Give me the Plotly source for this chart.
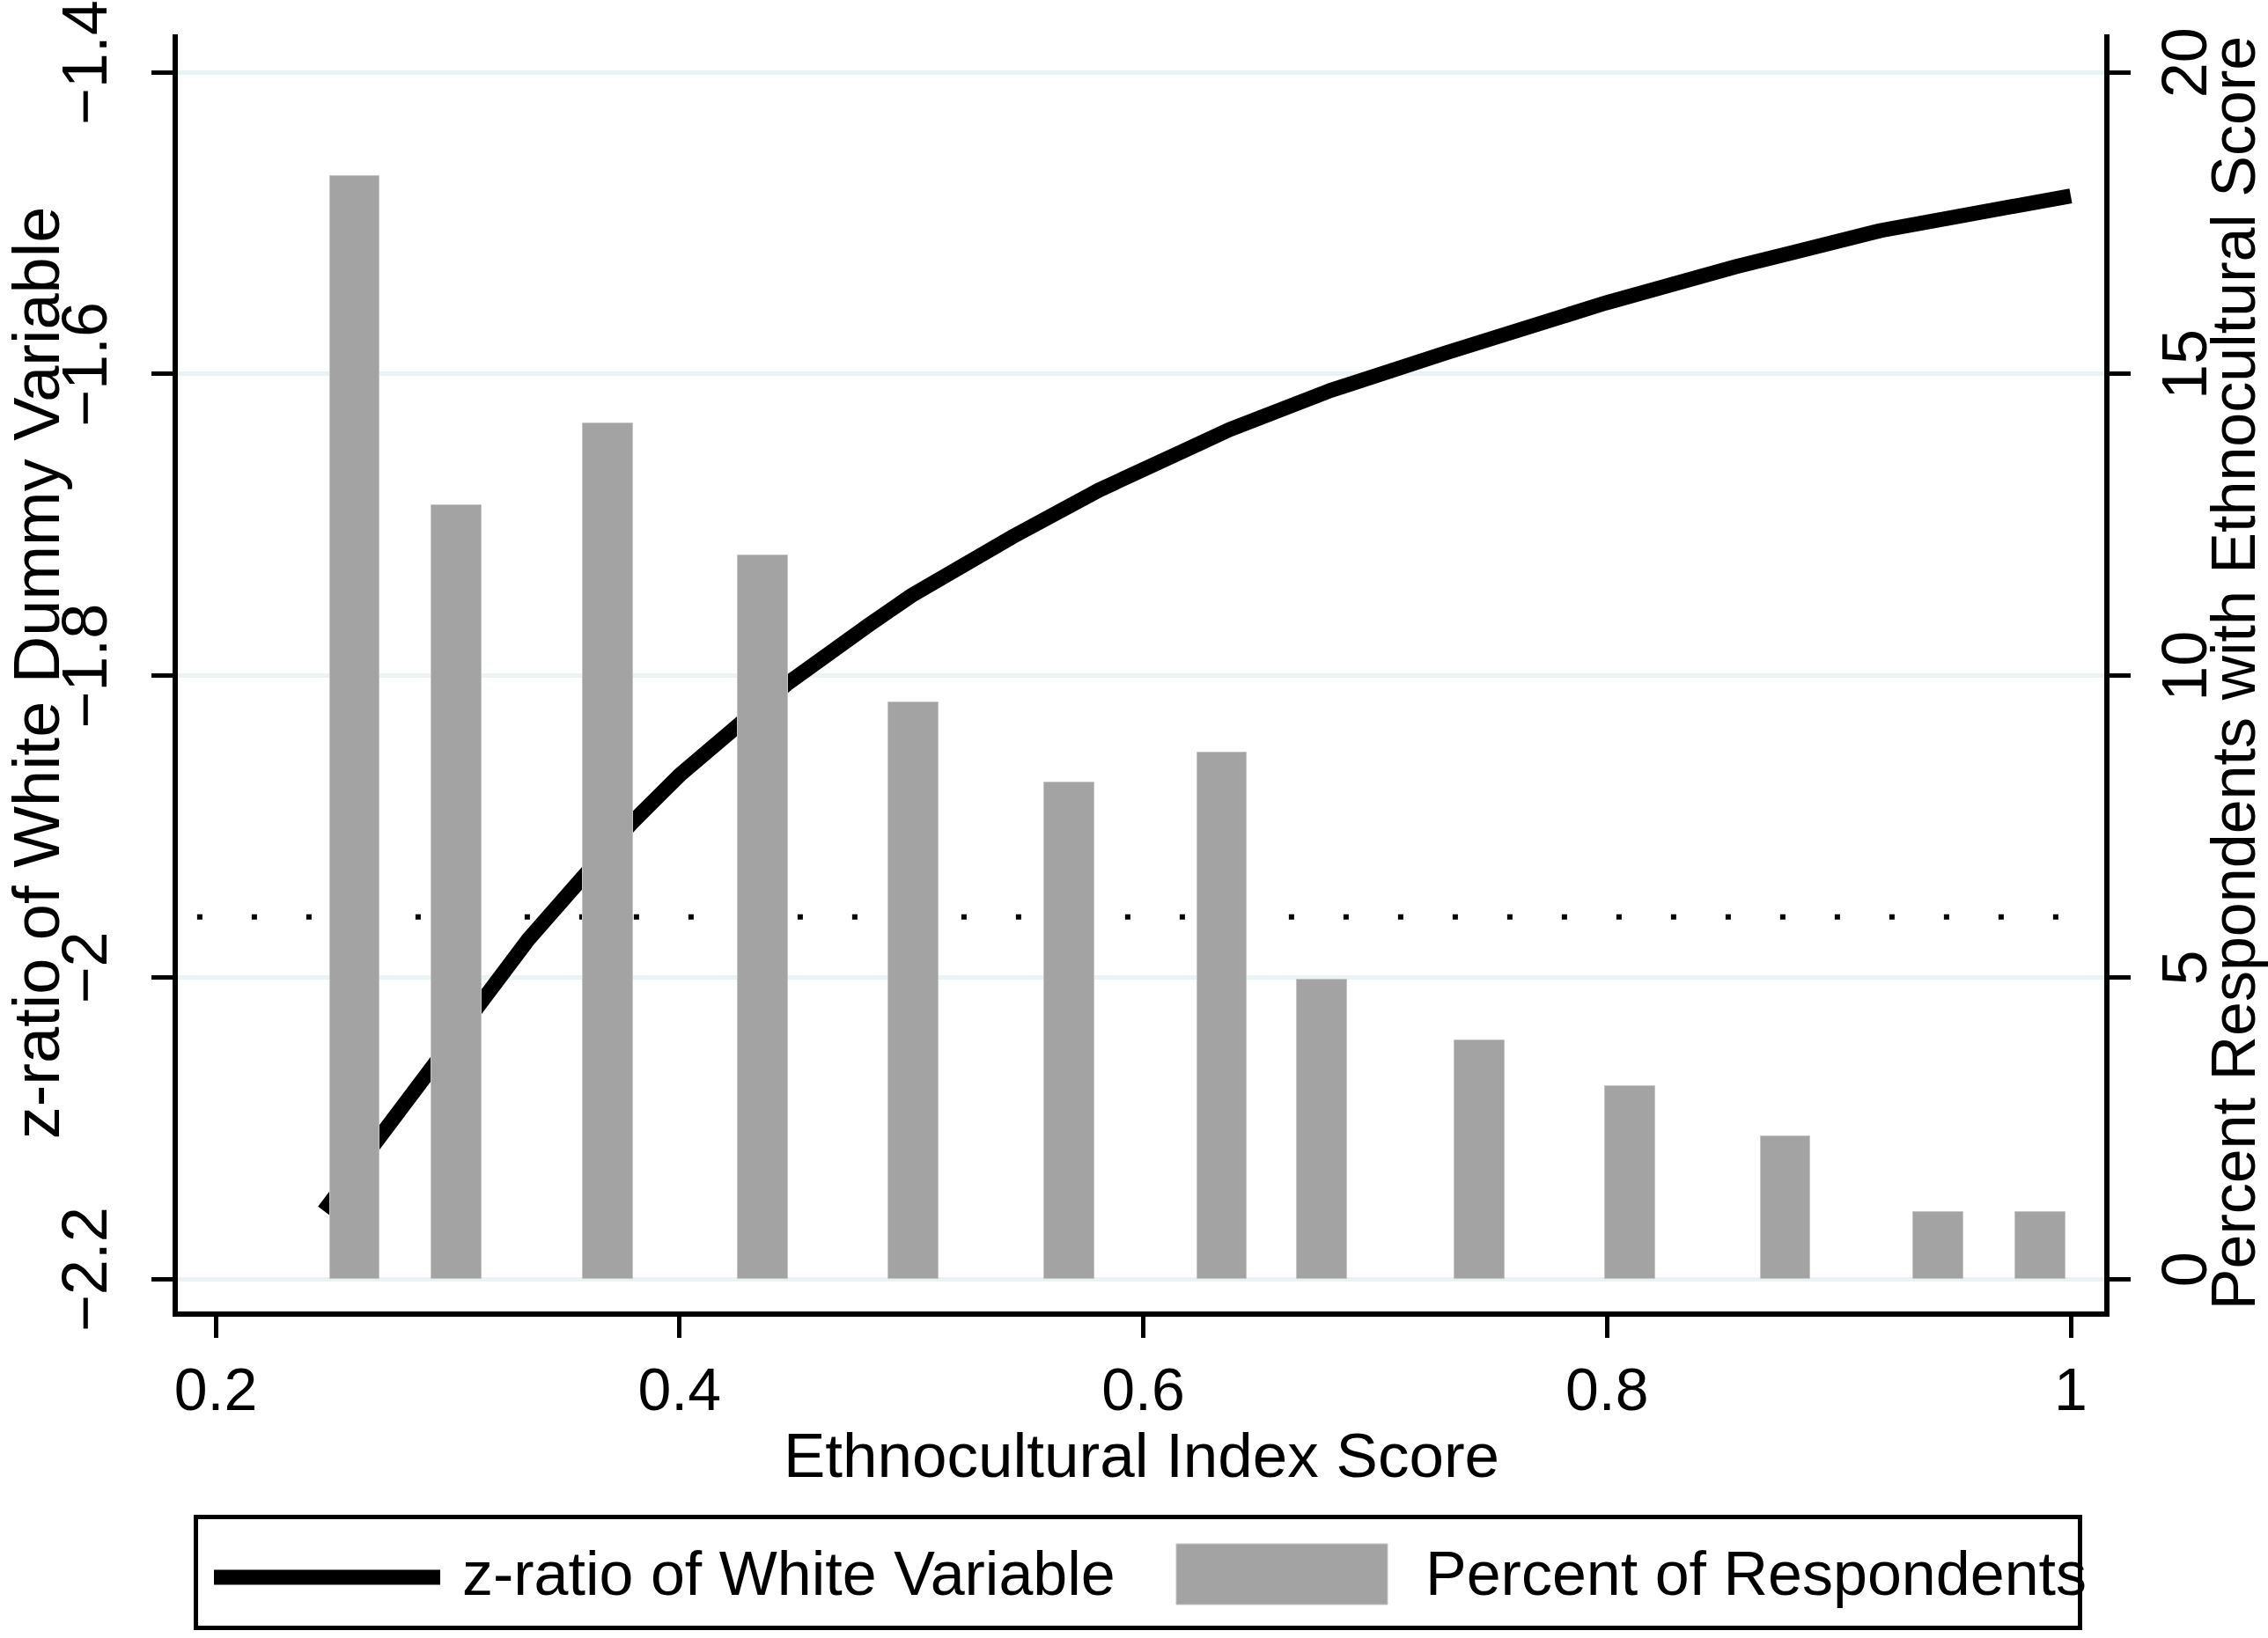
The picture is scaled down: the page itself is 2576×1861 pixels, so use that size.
import plotly.graph_objects as go

# ---------------- data ----------------
index_score = [0.260, 0.304, 0.369, 0.436, 0.501, 0.568, 0.634, 0.677, 0.745, 0.810, 0.877, 0.943, 0.987]
pct_respondents = [18.28, 12.83, 14.18, 11.99, 9.55, 8.23, 8.72, 4.96, 3.95, 3.19, 2.36, 1.11, 1.11]

curve_x = [0.2467, 0.2704, 0.2852, 0.2941, 0.3128, 0.3348, 0.3576, 0.3792, 0.4001, 0.4252,
           0.4468, 0.4812, 0.5000, 0.5436, 0.5810, 0.6372, 0.6808, 0.7307, 0.7994, 0.8555,
           0.9179, 1.0000]
curve_z = [-2.155, -2.106, -2.077, -2.059, -2.020, -1.975, -1.935, -1.898, -1.866, -1.832,
           -1.805, -1.767, -1.747, -1.708, -1.677, -1.637, -1.611, -1.586, -1.553, -1.529,
           -1.505, -1.482]

critical_z = -1.96

x_tickvals = [0.2, 0.4, 0.6, 0.8, 1.0]
x_ticktext = ["0.2", "0.4", "0.6", "0.8", "1"]
z_tickvals = [-2.2, -2.0, -1.8, -1.6, -1.4]
z_ticktext = ["\u22122.2", "\u22122", "\u22121.8", "\u22121.6", "\u22121.4"]
pct_tickvals = [0, 5, 10, 15, 20]
pct_ticktext = ["0", "5", "10", "15", "20"]

line_name = "z-ratio of White Variable"
bar_name = "Percent of Respondents"
x_title = "Ethnocultural Index Score"
z_title = "z-ratio of White Dummy Variable"
pct_title = "Percent Respondents with Ethnocultural Score"

# ---------------- ranges ----------------
x_range = [0.18367, 1.01443]
z_range = [-2.22159, -1.37491]
pct_range = [(z_range[0] + 2.2) * 25, (z_range[1] + 2.2) * 25]

FONT = "Liberation Sans, Arial, sans-serif"
BAR_COLOR = "#A3A3A3"

fig = go.Figure()

fig.add_trace(go.Scatter(
    x=curve_x, y=curve_z, mode="lines", name=line_name,
    line=dict(color="black", width=17), yaxis="y", showlegend=False,
))

fig.add_trace(go.Bar(
    x=index_score, y=pct_respondents, name=bar_name, width=0.0216,
    marker=dict(color=BAR_COLOR, line=dict(color="#C4C4C4", width=1)),
    yaxis="y2", showlegend=False,
))

# significance reference line
fig.add_shape(type="line", xref="paper", yref="y", x0=0.01, x1=0.99,
              y0=critical_z, y1=critical_z, layer="below",
              line=dict(color="black", width=6, dash="6px,56px"))

# ---------------- custom legend box ----------------
fig.add_shape(type="rect", xref="paper", yref="paper",
              x0=0.00937, x1=0.98743, y0=-0.24776, y1=-0.16092,
              line=dict(color="black", width=5), fillcolor="white")
fig.add_shape(type="line", xref="paper", yref="paper",
              x0=0.01874, x1=0.13620, y0=-0.20813, y1=-0.20813,
              line=dict(color="black", width=17))
fig.add_shape(type="rect", xref="paper", yref="paper",
              x0=0.51828, x1=0.62797, y0=-0.22950, y1=-0.18194,
              line=dict(color="#C4C4C4", width=1), fillcolor=BAR_COLOR)
fig.add_annotation(xref="paper", yref="paper", x=0.14671, y=-0.2054,
                   xanchor="left", yanchor="middle", showarrow=False,
                   text=line_name, font=dict(family=FONT, size=70, color="black"))
fig.add_annotation(xref="paper", yref="paper", x=0.64671, y=-0.2054,
                   xanchor="left", yanchor="middle", showarrow=False,
                   text=bar_name, font=dict(family=FONT, size=70, color="black"))

# x-axis title placed as annotation for precise position
fig.add_annotation(xref="paper", yref="paper", x=0.5, y=-0.1125,
                   xanchor="center", yanchor="middle", showarrow=False,
                   text=x_title, font=dict(family=FONT, size=71, color="black"))

fig.update_layout(
    width=2576, height=1861,
    margin=dict(l=202, r=186, t=39, b=371, pad=0),
    paper_bgcolor="white", plot_bgcolor="white",
    font=dict(family=FONT, color="black"),
    showlegend=False,
    bargap=0,
    xaxis=dict(
        range=x_range, tickvals=x_tickvals, ticktext=x_ticktext,
        showgrid=False, zeroline=False, automargin=False,
        showline=True, linecolor="black", linewidth=6, mirror=False,
        ticks="outside", ticklen=24, tickwidth=5, tickcolor="black",
        tickfont=dict(family=FONT, size=68, color="black"),
        ticklabelstandoff=0,
    ),
    yaxis=dict(
        range=z_range, tickvals=z_tickvals, ticktext=z_ticktext,
        showgrid=True, gridcolor="#EAF2F3", gridwidth=5, zeroline=False,
        automargin=False,
        showline=True, linecolor="black", linewidth=6,
        ticks="outside", ticklen=24, tickwidth=5, tickcolor="black",
        tickangle=-90, ticklabeloverflow="allow", ticklabelstandoff=22,
        tickfont=dict(family=FONT, size=72, color="black"),
        title=dict(text=z_title,
                   font=dict(family=FONT, size=74, color="black"), standoff=4),
    ),
    yaxis2=dict(
        range=pct_range, tickvals=pct_tickvals, ticktext=pct_ticktext,
        overlaying="y", side="right",
        showgrid=False, zeroline=False, automargin=False,
        showline=True, linecolor="black", linewidth=6,
        ticks="outside", ticklen=24, tickwidth=5, tickcolor="black",
        tickangle=-90, ticklabeloverflow="allow",
        tickfont=dict(family=FONT, size=72, color="black"),
        title=dict(text=pct_title,
                   font=dict(family=FONT, size=70, color="black"), standoff=0),
    ),
)

fig.write_html("out.html", config={"displayModeBar": False},
               post_script="document.body.style.margin='0';document.body.style.overflow='hidden';")
